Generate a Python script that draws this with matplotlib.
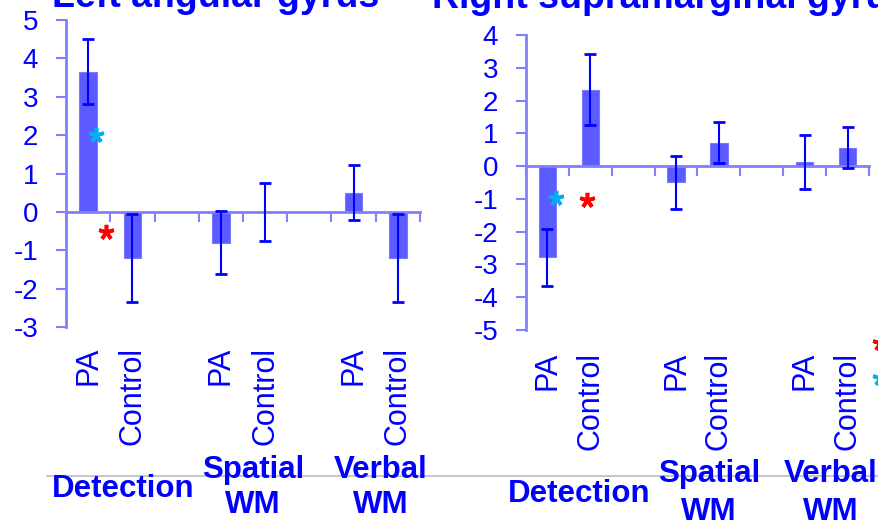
import matplotlib
matplotlib.use('Agg')
import matplotlib.pyplot as plt
from matplotlib.lines import Line2D
from matplotlib.transforms import blended_transform_factory, offset_copy

plt.rcParams['font.family'] = ['Liberation Sans', 'DejaVu Sans']
plt.rcParams['axes.unicode_minus'] = False

# ---------------- data ----------------
groups = ['Detection', 'Spatial\nWM', 'Verbal\nWM']
conditions = ['PA', 'Control']
left_title = 'Left angular gyrus'
right_title = 'Right supramarginal gyrus'

left_means = [3.65, -1.2, -0.8, 0.0, 0.5, -1.2]
left_err = [0.85, 1.15, 0.83, 0.75, 0.72, 1.15]
right_means = [-2.78, 2.33, -0.5, 0.72, 0.12, 0.56]
right_err = [0.87, 1.08, 0.8, 0.63, 0.82, 0.63]

left_yticks = [-3, -2, -1, 0, 1, 2, 3, 4, 5]
right_yticks = [-5, -4, -3, -2, -1, 0, 1, 2, 3, 4]

# significance stars: (slot x, y value, colour)
left_stars = [(0.68, 2.0, '#00b0f0'), (0.9, -0.52, '#ff0000')]
right_stars = [(0.70, -0.97, '#00b0f0'), (1.42, -1.02, '#ff0000')]

# ---------------- style ----------------
W, H = 879, 520
TXT = '#0000ff'
AX = '#8080ff'
BAR = '#5b5bff'
ERR = '#0000ff'

fig = plt.figure(figsize=(W / 100, H / 100), dpi=100)


def px_rect(x0, y_top, x1, y_bot):
    return [x0 / W, 1 - y_bot / H, (x1 - x0) / W, (y_bot - y_top) / H]


def panel(rect, means, errs, yticks, stars, label_off):
    ax = fig.add_axes(rect)
    n_slots = len(groups) * 3 - 1
    xs = [3 * gi + ci + 0.5 for gi in range(len(groups)) for ci in range(len(conditions))]
    ax.bar(xs, means, width=0.4, color=BAR, edgecolor='#7a7aff', linewidth=0.8, zorder=2)
    ax.errorbar(xs, means, yerr=errs, fmt='none', ecolor=ERR, elinewidth=1.5,
                capsize=4, capthick=2, zorder=3)
    for sx, sy, sc in stars:
        ax.plot([sx], [sy], marker=(5, 2, 0), markersize=11, markeredgewidth=2.6,
                color=sc, linestyle='none', zorder=4)
    ax.set_xlim(0, n_slots)
    ax.set_ylim(yticks[0], yticks[-1])
    ax.set_yticks(yticks)
    ax.set_yticklabels([str(t) for t in yticks], fontsize=20, color=TXT)
    ax.set_xticks(range(0, n_slots + 1))
    ax.set_xticklabels([])
    for s in ['top', 'right']:
        ax.spines[s].set_visible(False)
    ax.spines['bottom'].set_position(('data', 0))
    for s in ['left', 'bottom']:
        ax.spines[s].set_color(AX)
        ax.spines[s].set_linewidth(2)
    ax.tick_params(axis='y', direction='out', length=7, width=1.5, color=AX, pad=13)
    ax.tick_params(axis='x', direction='out', length=7, width=1.5, color=AX)
    ax.patch.set_alpha(0)
    # condition labels below the axes
    tr = offset_copy(blended_transform_factory(ax.transData, ax.transAxes),
                     fig=fig, x=0, y=-label_off, units='dots')
    k = 0
    for gi in range(len(groups)):
        for ci, cond in enumerate(conditions):
            ax.text(xs[k], 0, cond, transform=tr, rotation=90, ha='center', va='top',
                    fontsize=22, color=TXT)
            k += 1
    return ax


axL = panel(px_rect(66, 20, 420, 327), left_means, left_err, left_yticks, left_stars, 20)
axR = panel(px_rect(526, 35, 869, 330), right_means, right_err, right_yticks, right_stars, 22)

# grey slide line
fig.add_artist(Line2D([47 / W, 1], [1 - 476 / H] * 2, color='#c8c8c8', lw=1.5, zorder=0))

# group labels (pixel positions of centres / baselines)
left_group_pos = [(123, [497]), (253, [478, 513]), (381, [478, 513])]
right_group_pos = [(579, [502]), (709, [482, 520]), (831, [482, 520])]
for pos in (left_group_pos, right_group_pos):
    for g, (gx, gys) in zip(groups, pos):
        for line, gy in zip(g.split('\n'), gys):
            fig.text(gx / W, 1 - gy / H, line, ha='center', va='baseline', fontsize=22.5,
                     fontweight='bold', color=TXT)

# titles (cut at top edge)
fig.text(52 / W, 1 - 7 / H, left_title, ha='left', va='baseline', fontsize=27,
         fontweight='bold', color=TXT)
fig.text(432 / W, 1 - 8 / H, right_title, ha='left', va='baseline', fontsize=27,
         fontweight='bold', color=TXT)

# partial legend marks cut at right edge
fig.add_artist(Line2D([880 / W], [1 - 343 / H], marker=(5, 2, 0), markersize=11,
                      markeredgewidth=2.6, color='#ff0000', linestyle='none'))
fig.add_artist(Line2D([880 / W], [1 - 378 / H], marker=(5, 2, 0), markersize=11,
                      markeredgewidth=2.6, color='#00b0f0', linestyle='none'))

fig.savefig('out.png', dpi=100)
